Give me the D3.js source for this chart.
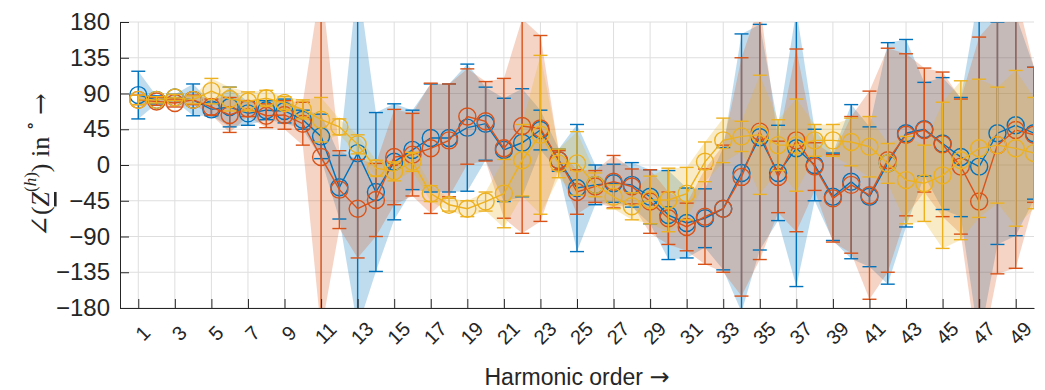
<!DOCTYPE html>
<html>
<head>
<meta charset="utf-8">
<script src="https://cdn.jsdelivr.net/npm/d3@7"></script>
<style>
    body { margin: 0; background: #fff; }
    text { font-family: "Liberation Sans", Arial, sans-serif; fill: #262626; }
</style>
</head>
<body>
<div class="chart"></div>
<script>
// harmonic orders and axis ticks
const harmonics = d3.range(1, 51);
const xTickValues = [1, 3, 5, 7, 9, 11, 13, 15, 17, 19, 21, 23, 25, 27, 29, 31, 33, 35, 37, 39, 41, 43, 45, 47, 49];
const yTickValues = [-180, -135, -90, -45, 0, 45, 90, 135, 180];

// mean angle and spread (deg) per series
const blueMean = [88, 82, 85, 82, 70, 73, 65, 69, 68, 57, 36, -28, 15, -34, 4, 19, 34, 34, 47, 52,
    19, 28, 44, 6, -29, -25, -23, -25, -40, -63, -73, -67, -55, -10, 35, -10, 21, 0, -40, -21,
    -40, 2, 40, 45, 27, 10, -2, 40, 50, 40];
const blueErr = [30, 5, 4, 20, 8, 25, 15, 12, 15, 12, 28, 40, 220, 100, 73, 50, 68, 68, 80, 46,
    65, 68, 25, 14, 80, 25, 24, 28, 34, 56, 44, 37, 77, 175, 142, 60, 174, 45, 55, 97,
    88, 152, 118, 59, 83, 75, 220, 140, 139, 83];

const orangeMean = [82, 80, 78, 82, 73, 63, 71, 62, 63, 52, 10, -31, -55, -44, 10, 13, 21, 31, 61, 55,
    21, 49, 46, 6, -34, -27, -21, -27, -46, -67, -78, -65, -55, -15, 42, -15, 31, -2, -42, -25,
    -38, 6, 38, 44, 26, -2, -46, 25, 44, 38];
const orangeErr = [6, 5, 5, 6, 10, 22, 10, 15, 18, 27, 220, 49, 62, 46, 60, 52, 82, 71, 60, 50,
    88, 135, 117, 12, 28, 20, 33, 22, 40, 33, 30, 60, 80, 150, 161, 45, 115, 30, 55, 86,
    131, 141, 102, 78, 91, 85, 207, 162, 174, 85];

const yellowMean = [82, 82, 85, 82, 93, 83, 80, 84, 78, 70, 57, 48, 26, -4, -8, 4, -36, -50, -55, -46,
    -36, 6, 38, 2, 2, -25, -40, -52, -44, -44, -36, 4, 31, 36, 38, 25, 25, 31, 31, 29,
    23, 2, -19, -23, -13, 6, 21, 25, 21, 15];
const yellowErr = [6, 4, 4, 5, 16, 15, 12, 10, 8, 12, 28, 10, 12, 10, 12, 12, 10, 8, 10, 12,
    43, 45, 100, 18, 40, 15, 15, 17, 30, 40, 33, 25, 28, 19, 75, 32, 58, 20, 20, 30,
    38, 25, 55, 48, 92, 100, 87, 73, 98, 70];

const series = [
    {color: "#0072BD", mean: blueMean, err: blueErr},
    {color: "#D95319", mean: orangeMean, err: orangeErr},
    {color: "#EDB120", mean: yellowMean, err: yellowErr}
].map(s => ({
    color: s.color,
    values: harmonics.map((h, i) => ({h: h, mean: s.mean[i], err: s.err[i]}))
}));

// margin convention
const margin = ({top: 22, right: 11, bottom: 82, left: 120});
const width = 1045 - margin.left - margin.right;
const height = 390 - margin.top - margin.bottom;

const svg = d3.select(".chart")
    .append("svg")
    .attr("width", width + margin.left + margin.right)
    .attr("height", height + margin.top + margin.bottom)
    .append("g")
    .attr("transform", "translate(" + margin.left + "," + margin.top + ")");

const xScale = d3.scaleLinear()
    .domain([0, 50])
    .range([0, width]);

const yScale = d3.scaleLinear()
    .domain([-180, 180])
    .range([height, 0]);

svg.append("clipPath")
    .attr("id", "plot-clip")
    .append("rect")
    .attr("width", width)
    .attr("height", height);

// grid
svg.append("g")
    .selectAll("line")
    .data(xTickValues)
    .join("line")
    .attr("x1", d => xScale(d)).attr("x2", d => xScale(d))
    .attr("y1", 0).attr("y2", height)
    .attr("stroke", "#dedede");

svg.append("g")
    .selectAll("line")
    .data(yTickValues)
    .join("line")
    .attr("x1", 0).attr("x2", width)
    .attr("y1", d => yScale(d)).attr("y2", d => yScale(d))
    .attr("stroke", "#dedede");

const plot = svg.append("g").attr("clip-path", "url(#plot-clip)");

// shaded bands
const area = d3.area()
    .x(d => xScale(d.h))
    .y0(d => yScale(d.mean - d.err))
    .y1(d => yScale(d.mean + d.err));

series.forEach(s => {
    plot.append("path")
        .datum(s.values)
        .attr("fill", s.color)
        .attr("fill-opacity", 0.25)
        .attr("d", area);
});

// error bars, lines and markers
const line = d3.line()
    .x(d => xScale(d.h))
    .y(d => yScale(d.mean));

const cap = 7;

series.forEach(s => {
    const g = plot.append("g")
        .attr("stroke", s.color)
        .attr("stroke-width", 1.4)
        .attr("fill", "none");

    const bars = g.selectAll(".bar")
        .data(s.values)
        .join("g")
        .attr("class", "bar");

    bars.append("line")
        .attr("x1", d => xScale(d.h)).attr("x2", d => xScale(d.h))
        .attr("y1", d => yScale(d.mean - d.err))
        .attr("y2", d => yScale(d.mean + d.err));

    bars.append("line")
        .attr("x1", d => xScale(d.h) - cap).attr("x2", d => xScale(d.h) + cap)
        .attr("y1", d => yScale(d.mean - d.err))
        .attr("y2", d => yScale(d.mean - d.err));

    bars.append("line")
        .attr("x1", d => xScale(d.h) - cap).attr("x2", d => xScale(d.h) + cap)
        .attr("y1", d => yScale(d.mean + d.err))
        .attr("y2", d => yScale(d.mean + d.err));

    g.append("path")
        .datum(s.values)
        .attr("d", line);

    g.selectAll("circle")
        .data(s.values)
        .join("circle")
        .attr("cx", d => xScale(d.h))
        .attr("cy", d => yScale(d.mean))
        .attr("r", 8.5);
});

// axes
const xAxis = d3.axisBottom(xScale)
    .tickValues(xTickValues)
    .tickSizeInner(-9)
    .tickSizeOuter(0);

const yAxis = d3.axisLeft(yScale)
    .tickValues(yTickValues)
    .tickSizeInner(-9)
    .tickSizeOuter(0)
    .tickPadding(10);

const xAxisGroup = svg.append("g")
    .attr("class", "axis x-axis")
    .attr("transform", `translate(0, ${height})`)
    .call(xAxis);

xAxisGroup.selectAll("text")
    .attr("y", null)
    .attr("dy", null)
    .attr("font-size", 20)
    .attr("font-family", null)
    .attr("text-anchor", "middle")
    .attr("dominant-baseline", "central")
    .attr("transform", "translate(4, 25) rotate(-45)");

const yAxisGroup = svg.append("g")
    .attr("class", "axis y-axis")
    .call(yAxis);

yAxisGroup.selectAll("text")
    .attr("font-size", 24)
    .attr("font-family", null);

svg.selectAll(".axis path, .axis line").attr("stroke", "#262626");

// labels
const xlabel = svg.append("text")
    .attr("class", "xlabel")
    .attr("x", width / 2)
    .attr("y", height + 77)
    .attr("text-anchor", "middle")
    .attr("font-size", 23);
xlabel.append("tspan").text("Harmonic order ");
xlabel.append("tspan").style("font-family", "'DejaVu Sans', sans-serif").attr("font-size", 24).text("\u2192");

const ylabel = svg.append("text")
    .attr("class", "ylabel")
    .attr("transform", `translate(${40 - margin.left}, ${height / 2}) rotate(-90)`)
    .attr("text-anchor", "middle")
    .attr("dominant-baseline", "central")
    .style("font-family", "'Liberation Serif', 'DejaVu Serif', serif")
    .attr("font-size", 26);

ylabel.append("tspan").text("\u2220(");
ylabel.append("tspan").attr("font-style", "italic").style("text-decoration", "underline").text("Z");
ylabel.append("tspan").attr("font-size", 17).attr("dy", -10).text("(");
ylabel.append("tspan").attr("font-size", 17).attr("font-style", "italic").text("h");
ylabel.append("tspan").attr("font-size", 17).text(")");
ylabel.append("tspan").attr("dy", 10).text(") in ");
ylabel.append("tspan").attr("font-size", 18).attr("dy", -10).text("\u2218");
ylabel.append("tspan").attr("dy", 10).text(" ");
ylabel.append("tspan").style("font-family", "'DejaVu Serif', serif").attr("font-size", 26).text("\u2192");
</script>
</body>
</html>
